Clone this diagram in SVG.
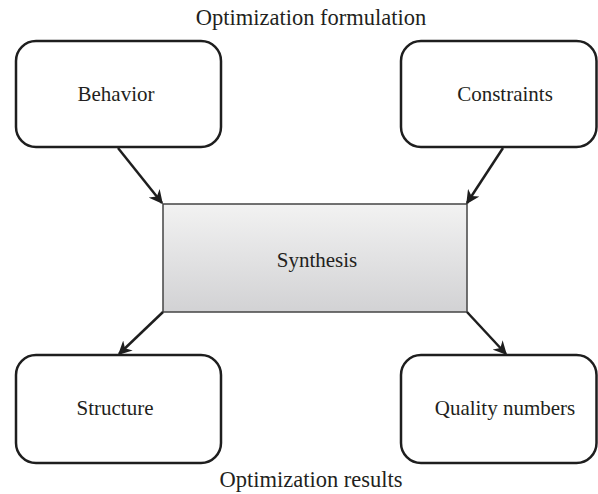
<svg xmlns="http://www.w3.org/2000/svg" width="598" height="494" viewBox="0 0 598 494">
  <defs>
    <linearGradient id="synthFill" x1="0" y1="0" x2="0" y2="1">
      <stop offset="0" stop-color="#f2f2f2"/>
      <stop offset="1" stop-color="#d2d2d4"/>
    </linearGradient>
    <marker id="arrow" viewBox="0 0 10 10" refX="9" refY="5" markerWidth="5.5" markerHeight="5.5" orient="auto" markerUnits="strokeWidth">
      <path d="M0,0 L10,5 L0,10 L3,5 Z" fill="#1e1e1e"/>
    </marker>
  </defs>
  <style>
    .box { fill: #ffffff; stroke: #1e1e1e; stroke-width: 2.5; }
    .synth { fill: url(#synthFill); stroke: #444444; stroke-width: 1.5; }
    .label { font-family: "Liberation Serif", "Times New Roman", serif; font-size: 21px; fill: #231f20; text-anchor: middle; }
    .title { font-size: 22.5px; }
    .link { stroke: #1e1e1e; stroke-width: 2.5; fill: none; marker-end: url(#arrow); }
  </style>
  <rect width="598" height="494" fill="#ffffff"/>

  <text class="label title" x="311" y="25">Optimization formulation</text>
  <text class="label title" x="311" y="487">Optimization results</text>

  <g id="behavior">
    <rect class="box" x="16" y="41" width="205" height="106" rx="20" ry="20"/>
    <text class="label" x="116" y="101">Behavior</text>
  </g>
  <g id="constraints">
    <rect class="box" x="401" y="41" width="195.5" height="106" rx="20" ry="20"/>
    <text class="label" x="505" y="101">Constraints</text>
  </g>
  <g id="synthesis">
    <rect class="synth" x="163" y="204" width="304" height="108"/>
    <text class="label" x="317" y="267">Synthesis</text>
  </g>
  <g id="structure">
    <rect class="box" x="16" y="355" width="205" height="108" rx="20" ry="20"/>
    <text class="label" x="115" y="415">Structure</text>
  </g>
  <g id="quality">
    <rect class="box" x="401" y="355" width="195.5" height="108" rx="20" ry="20"/>
    <text class="label" x="505" y="415">Quality numbers</text>
  </g>

  <g id="connectors">
    <line class="link" x1="118" y1="148" x2="162" y2="203"/>
    <line class="link" x1="503" y1="148" x2="467" y2="203"/>
    <line class="link" x1="163" y1="312" x2="119" y2="354"/>
    <line class="link" x1="467" y1="312" x2="506" y2="354"/>
  </g>
</svg>
